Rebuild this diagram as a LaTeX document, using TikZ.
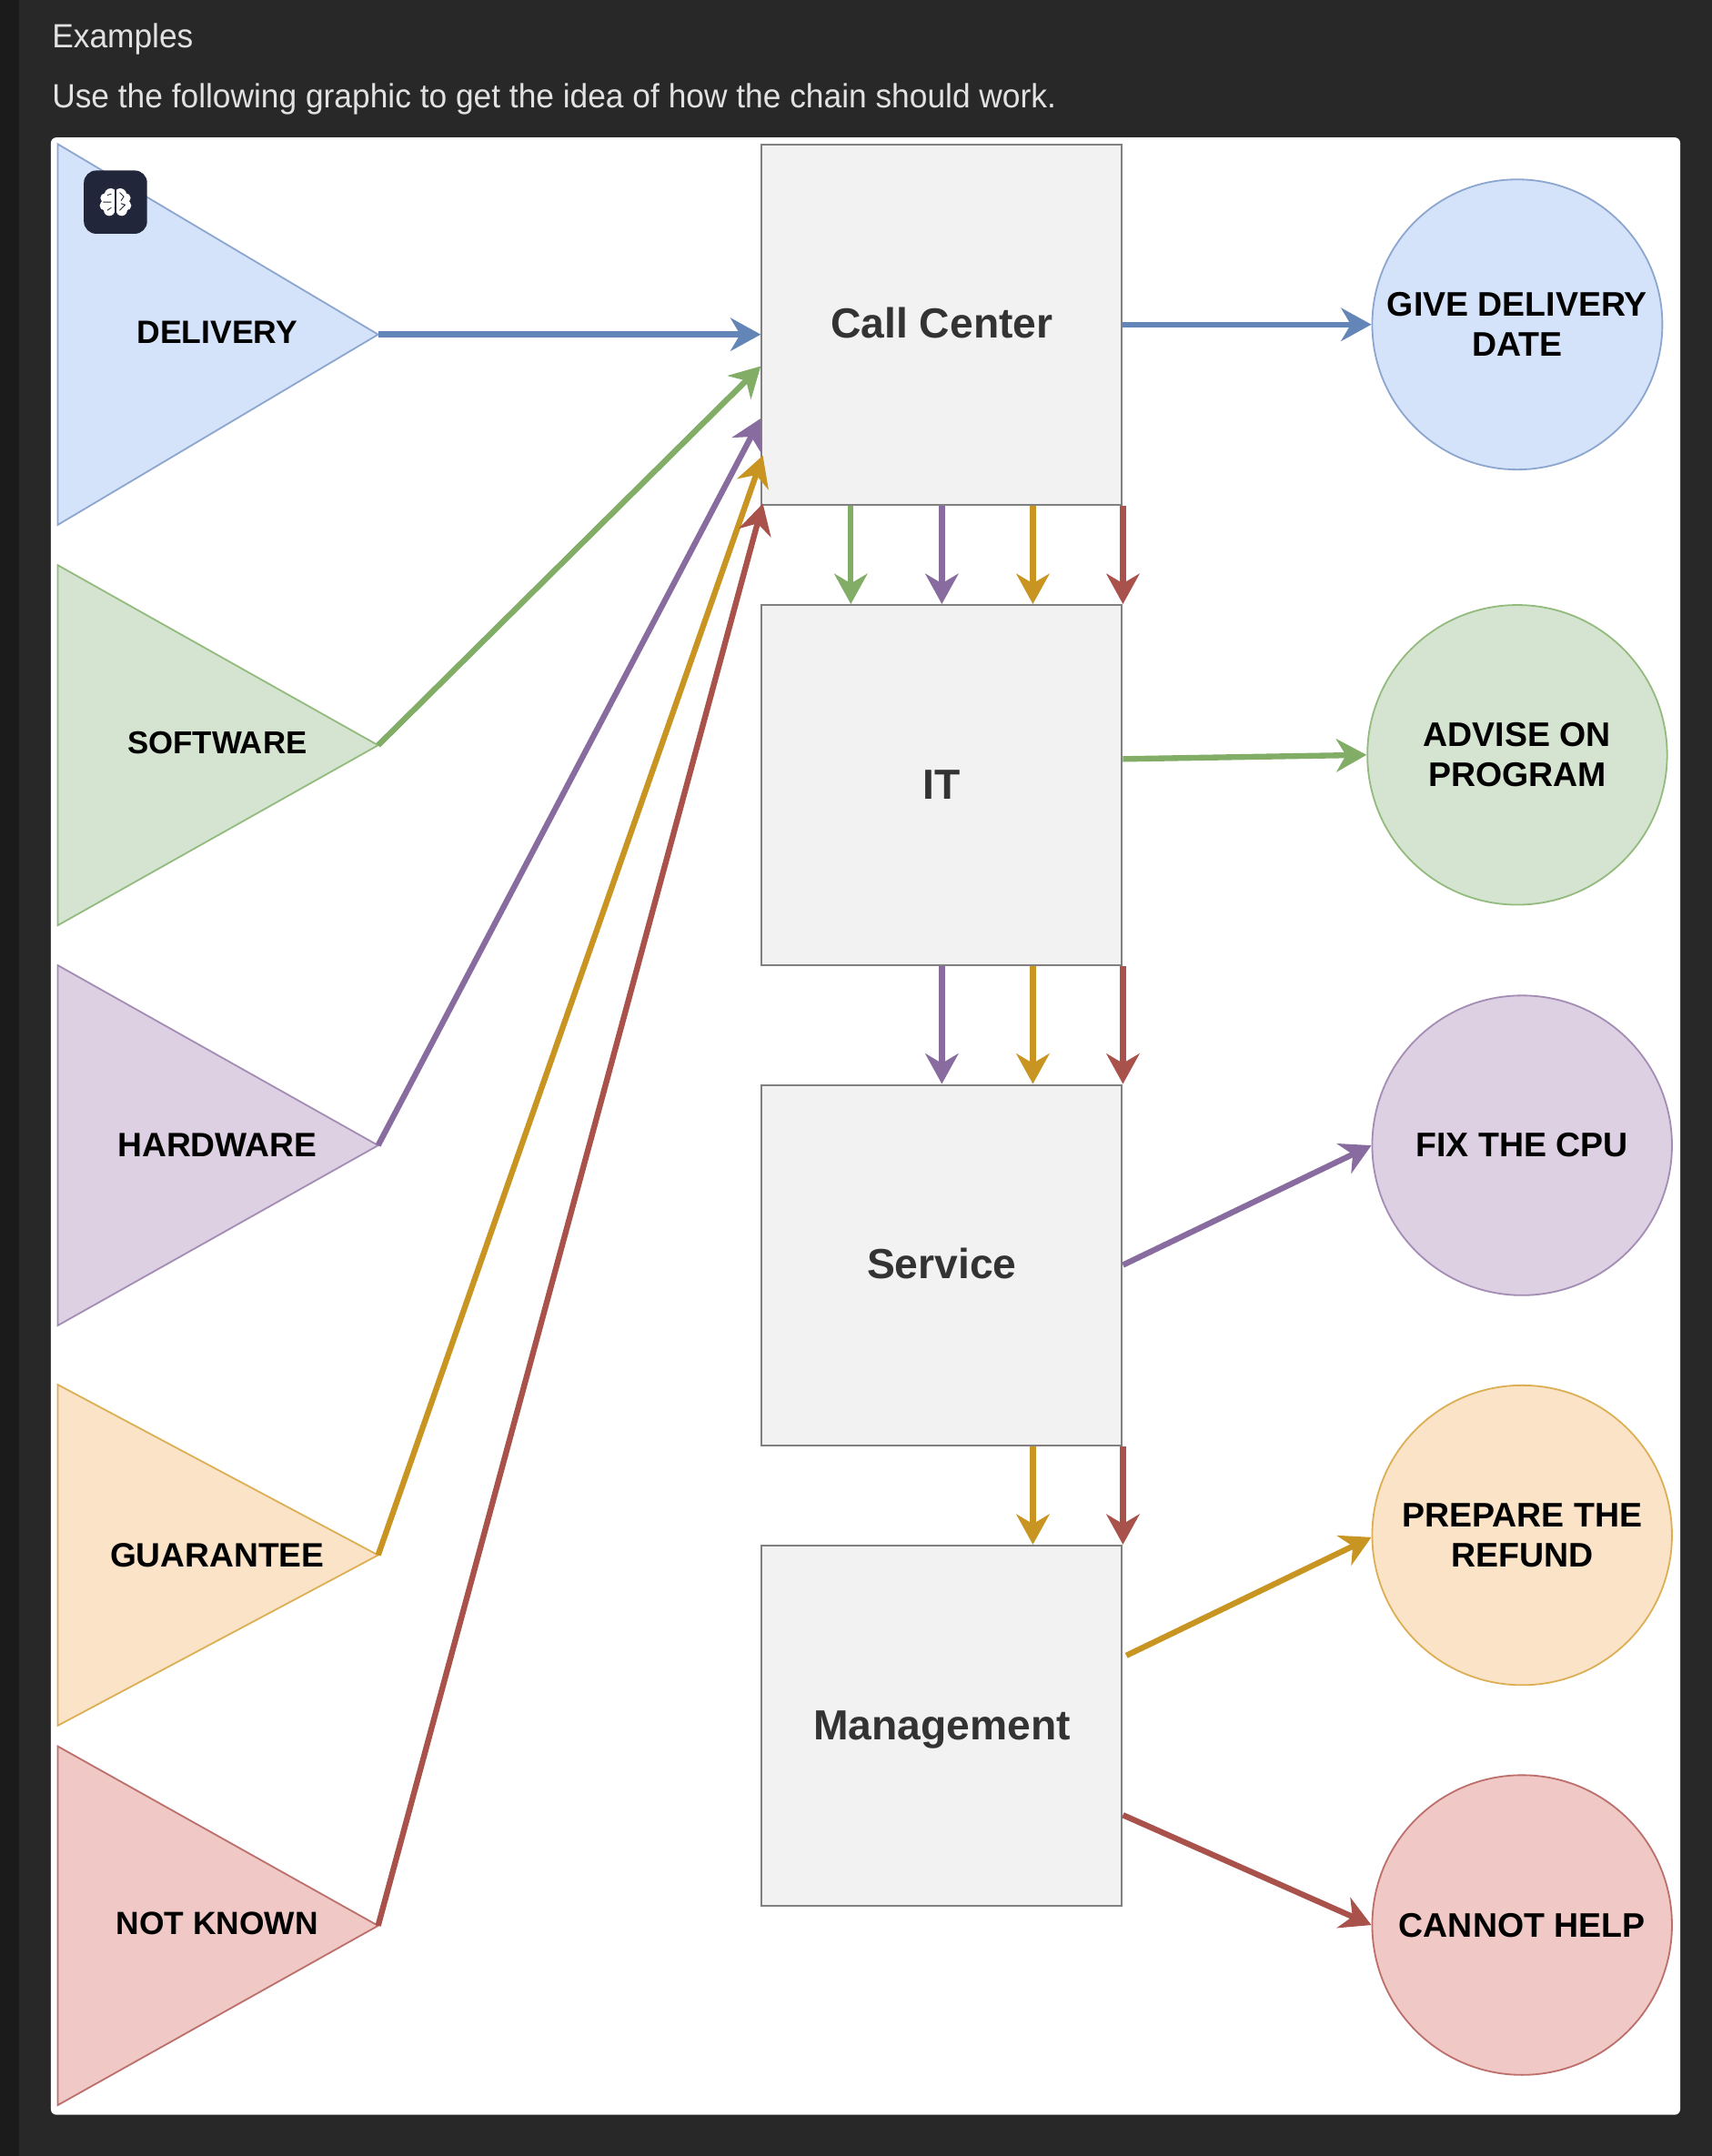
\documentclass[tikz,border=0pt]{standalone}
\usepackage{fontspec}
\setmainfont{Liberation Sans}
\newfontfamily\topfont[FakeStretch=0.958]{Liberation Sans}
\usetikzlibrary{arrows.meta,calc,shapes.geometric}
\definecolor{bgdark}{HTML}{282828}
\definecolor{strip}{HTML}{1B1B1B}
\definecolor{toptext}{HTML}{E2E2E2}
\definecolor{icon}{HTML}{22263A}
\definecolor{bluefill}{HTML}{D5E3FA}\definecolor{blueline}{HTML}{8CA6CF}\definecolor{bluearrow}{HTML}{6485B7}
\definecolor{greenfill}{HTML}{D5E4D1}\definecolor{greenline}{HTML}{93BB7E}\definecolor{greenarrow}{HTML}{82AD66}
\definecolor{purplefill}{HTML}{DCD0E2}\definecolor{purpleline}{HTML}{A48CB4}\definecolor{purplearrow}{HTML}{886C9F}
\definecolor{goldfill}{HTML}{FBE3C8}\definecolor{goldline}{HTML}{DDAF55}\definecolor{goldarrow}{HTML}{C99522}
\definecolor{redfill}{HTML}{F0C8C6}\definecolor{redline}{HTML}{BC6F6B}\definecolor{redarrow}{HTML}{A9514B}
\tikzset{
  x=0.5pt,y=-0.5pt,
  topline/.style={anchor=base west,text=toptext,font=\topfont\fontsize{12.2}{14}\selectfont,inner sep=0pt},
  tri/.style={isosceles triangle,isosceles triangle stretches,shape border rotate=0,inner sep=0pt,outer sep=0pt,anchor=apex,minimum width=#1,minimum height=116.5pt,line width=0.6pt},
  lbl/.style={font=\fontsize{#1}{14.5}\selectfont\bfseries,text=black,inner sep=0pt,align=center},
  stage/.style={draw=black!50,fill=black!5,line width=0.7pt,minimum width=131pt,minimum height=131pt,inner sep=0pt,text height=13pt,text depth=3pt,font=\fontsize{15.3}{18}\selectfont\bfseries,text=black!80},
  act/.style={circle,line width=0.6pt,minimum size=109pt,inner sep=0pt,align=center,font=\fontsize{12.4}{14.5}\selectfont\bfseries,text=black},
  link/.style={line width=2.1pt,-{Stealth[length=11pt,width=12pt,inset=3.5pt]}},
}
\begin{document}
\begin{tikzpicture}
\useasboundingbox (0,0) rectangle (1245.1,1568);
\fill[bgdark] (0,0) rectangle (1245.1,1568);
\fill[strip] (0,0) rectangle (14,1568);
\fill[white,rounded corners=2pt] (37,100) rectangle (1222,1538);
\node[topline] (t1) at (37.5,34.5) {Examples};
\node[topline] (t2) at (37.5,78.5) {Use the following graphic to get the idea of how the chain should work.};

% triangles
\node[tri=138.5pt,draw=blueline,fill=bluefill] (tD) at (275,243.25) {};
\node[tri=131pt,draw=greenline,fill=greenfill] (tS) at (275,542) {};
\node[tri=131pt,draw=purpleline,fill=purplefill] (tH) at (275,833) {};
\node[tri=124pt,draw=goldline,fill=goldfill] (tG) at (275,1131) {};
\node[tri=130.5pt,draw=redline,fill=redfill] (tN) at (275,1400.5) {};
\node[lbl=11.75] (lD) at (158,241.5) {DELIVERY};
\node[lbl=11.5] (lS) at (158,540) {SOFTWARE};
\node[lbl=12.3] (lH) at (158,833) {HARDWARE};
\node[lbl=12.3] (lG) at (158,1131) {GUARANTEE};
\node[lbl=11.7] (lN) at (158,1398.5) {NOT KNOWN};

% icon
\fill[icon,rounded corners=4.5pt] (61,124) rectangle (107,170);
\fill[white] (80.5,141.5) circle (4.5) (76.5,144) circle (3.5) (76,149.5) circle (3.5) (79.5,153) circle (4) (81,147) circle (4.5);
\fill[white] (87.5,141.5) circle (4.5) (91.5,144) circle (3.5) (92,149.5) circle (3.5) (88.5,153) circle (4) (87,147) circle (4.5);
\draw[icon,line width=0.45pt] (84,136.5) -- (84,158);
\draw[icon,line width=0.3pt] (75,147) -- (81,147) (78,142) -- (81,141) (78,153) -- (81,151) (87,140) -- (90,143) -- (88,146) (87,153) -- (91,149) -- (88,148);

% stages
\node[stage] (cc) at (685,236) {Call Center};
\node[stage] (it) at (685,571) {IT};
\node[stage] (sv) at (685,920) {Service};
\node[stage] (mg) at (685,1255) {Management};

% actions
\node[act,minimum size=105.5pt,draw=blueline,fill=bluefill] (aD) at (1103.5,236) {GIVE DELIVERY\\DATE};
\node[act,draw=greenline,fill=greenfill] (aS) at (1103.5,549) {ADVISE ON\\PROGRAM};
\node[act,draw=purpleline,fill=purplefill] (aH) at (1107,833) {FIX THE CPU};
\node[act,draw=goldline,fill=goldfill] (aG) at (1107,1116.5) {PREPARE THE\\REFUND};
\node[act,draw=redline,fill=redfill] (aN) at (1107,1400) {CANNOT HELP};

% incoming
\draw[link,bluearrow] (tD.apex) -- (tD.apex -| cc.west);
\draw[link,greenarrow] (tS.apex) -- ($(cc.north west)+(0,162)$);
\draw[link,purplearrow] (tH.apex) -- ($(cc.north west)+(0,200)$);
\draw[link,goldarrow] (tG.apex) -- ($(cc.north west)+(1.5,227)$);
\draw[link,redarrow] (tN.apex) -- ($(cc.south west)+(1.5,-1.5)$);

% down chains
\draw[link,greenarrow] ($(cc.south west)+(65.5,0)$) -- ($(it.north west)+(65.5,0)$);
\draw[link,purplearrow] (cc.south) -- (it.north);
\draw[link,goldarrow] ($(cc.south east)+(-65.5,0)$) -- ($(it.north east)+(-65.5,0)$);
\draw[link,redarrow] (cc.south east) -- (it.north east);
\draw[link,purplearrow] (it.south) -- (sv.north);
\draw[link,goldarrow] ($(it.south east)+(-65.5,0)$) -- ($(sv.north east)+(-65.5,0)$);
\draw[link,redarrow] (it.south east) -- (sv.north east);
\draw[link,goldarrow] ($(sv.south east)+(-65.5,0)$) -- ($(mg.north east)+(-65.5,0)$);
\draw[link,redarrow] (sv.south east) -- (mg.north east);

% outgoing
\draw[link,bluearrow] (cc.east) -- (aD.west);
\draw[link,greenarrow] ($(it.east)+(0,-19)$) -- (aS.west);
\draw[link,purplearrow] (sv.east) -- (aH.west);
\draw[link,goldarrow] ($(mg.east)+(2.5,-51)$) -- ($(aG.west)+(0,1.5)$);
\draw[link,redarrow] ($(mg.east)+(0,65)$) -- (aN.west);
\end{tikzpicture}
\end{document}
